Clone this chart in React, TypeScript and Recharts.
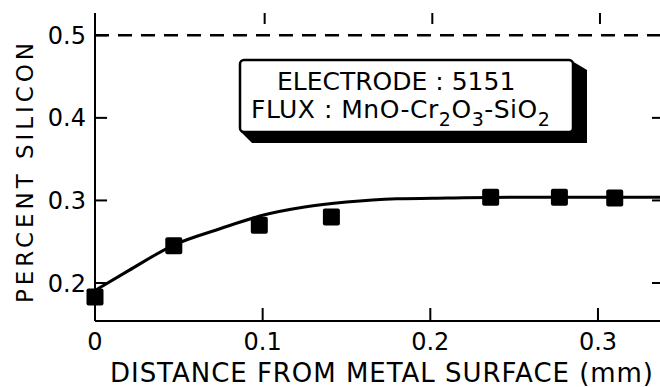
import React from 'react';
import { ComposedChart, Line, Scatter, XAxis, YAxis, ReferenceLine, Label } from 'recharts';

// ---- data ----
const xTickValues = [0, 0.1, 0.2, 0.3];
const yTickValues = [0.2, 0.3, 0.4, 0.5];
const innerXTickValues = [0.1, 0.2, 0.3];
const rightTickValues = [0.2, 0.3, 0.4];

const measuredDistance = [0, 0.047, 0.098, 0.141, 0.236, 0.277, 0.31];
const measuredSilicon = [0.183, 0.245, 0.27, 0.28, 0.304, 0.304, 0.303];

const curveDistance = [0, 0.02, 0.047, 0.075, 0.1, 0.125, 0.15, 0.18, 0.21, 0.25, 0.3, 0.337];
const curveSilicon = [0.191, 0.215, 0.246, 0.266, 0.282, 0.292, 0.298, 0.302, 0.303, 0.304, 0.304, 0.304];

const saturationSilicon = 0.5;
const xDomain = [0, 0.337];
const yDomain = [0.154, 0.527];

const xLabelText = 'DISTANCE FROM METAL SURFACE (mm)';
const yLabelText = 'PERCENT SILICON';

const points = measuredDistance.map((x, i) => ({ x, si: measuredSilicon[i] }));
const curve = curveDistance.map((x, i) => ({ x, si: curveSilicon[i] }));

// inward tick lengths expressed in distance units along the frame edges
const leftTickLen = 0.0072;
const rightTickLen = 0.0048;

const leftTickSegments = yTickValues.map((v) => [
  { x: xDomain[0], si: v },
  { x: xDomain[0] + leftTickLen, si: v },
]);
const rightTickSegments = rightTickValues.map((v) => [
  { x: xDomain[1] - rightTickLen, si: v },
  { x: xDomain[1], si: v },
]);

const FONT = '"DejaVu Sans", sans-serif';
const INK = '#000';

const fmt = (v: number) => (v === 0 ? '0' : v.toFixed(1));

const leftTick = (props: any) => {
  const { x, y, payload } = props;
  return (
    <text x={x} y={y} dy={8.5} textAnchor="end" fontSize={24} fontFamily={FONT} fill={INK}>
      {fmt(payload.value)}
    </text>
  );
};

const bottomTick = (props: any) => {
  const { x, y, payload } = props;
  return (
    <text x={x} y={y} dy={17.5} textAnchor="middle" fontSize={24} fontFamily={FONT} fill={INK}>
      {fmt(payload.value)}
    </text>
  );
};

// inward tick marks at bottom and top of the frame
const xTickShape = (p: any) => {
  const x = p.x1;
  const yb = Math.max(p.y1, p.y2);
  const yt = Math.min(p.y1, p.y2);
  return (
    <g>
      <rect x={x - 1} y={yb - 13} width={2} height={13} fill={INK} />
      <rect x={x + 1} y={yt} width={2} height={11} fill={INK} />
    </g>
  );
};

const Square = (props: any) => {
  const { cx, cy } = props;
  if (cx == null || cy == null) return null;
  return <rect x={cx - 8.5} y={cy - 8.5} width={17} height={17} rx={2} fill={INK} />;
};

const XLabel = (props: any) => {
  const vb = props.viewBox || { x: 95, y: 321, width: 565, height: 66 };
  return (
    <text
      x={vb.x + 15}
      y={vb.y + 61}
      textAnchor="start"
      fontSize={26}
      fontFamily={FONT}
      fill={INK}
      textLength={543}
      lengthAdjust="spacing"
    >
      {xLabelText}
    </text>
  );
};

const YLabel = (props: any) => {
  const vb = props.viewBox || { x: 0, y: 13, width: 95, height: 308 };
  const cx = vb.x + 24;
  const cy = vb.y + vb.height / 2 + 6;
  return (
    <text
      x={cx}
      y={cy}
      dy={8.5}
      transform={`rotate(-90, ${cx}, ${cy})`}
      textAnchor="middle"
      fontSize={23}
      fontFamily={FONT}
      fill={INK}
      textLength={260}
      lengthAdjust="spacing"
    >
      {yLabelText}
    </text>
  );
};

const LegendBox = () => (
  <svg
    width={660}
    height={387}
    style={{ position: 'absolute', left: 0, top: 0, pointerEvents: 'none' }}
  >
    <polygon points="572,61 587,70 587,143 252,143 241,132" fill={INK} />
    <rect x={240} y={60} width={333} height={72} rx={4} fill="#fff" stroke={INK} strokeWidth={2.5} />
    <text x={277} y={90} fontSize={25} fontFamily={FONT} fill={INK}>
      ELECTRODE : 5151
    </text>
    <text x={251} y={118} fontSize={25} fontFamily={FONT} fill={INK} letterSpacing={0.5}>
      FLUX : MnO-Cr
      <tspan fontSize={19} dy={8}>2</tspan>
      <tspan dy={-8}>O</tspan>
      <tspan fontSize={19} dy={8}>3</tspan>
      <tspan dy={-8}>-SiO</tspan>
      <tspan fontSize={19} dy={8}>2</tspan>
    </text>
  </svg>
);

const axisStroke = { stroke: INK, strokeWidth: 2 };

export default function App() {
  return (
    <div style={{ position: 'absolute', left: 0, top: 0, width: 660, height: 387, background: '#fff' }}>
      <ComposedChart
        width={660}
        height={387}
        margin={{ top: 13, right: 0, bottom: 0, left: 0 }}
        style={{ fontFamily: FONT }}
      >
        <XAxis
          xAxisId="bottom"
          dataKey="x"
          type="number"
          domain={xDomain}
          ticks={xTickValues}
          height={66}
          tickSize={0}
          tickMargin={11}
          tickLine={false}
          axisLine={axisStroke}
          tick={bottomTick}
          interval={0}
        >
          <Label content={<XLabel />} />
        </XAxis>
        <YAxis
          yAxisId="left"
          type="number"
          domain={yDomain}
          ticks={yTickValues}
          width={95}
          tickSize={0}
          tickMargin={9}
          tickLine={false}
          axisLine={axisStroke}
          tick={leftTick}
          interval={0}
        >
          <Label content={<YLabel />} />
        </YAxis>
        {innerXTickValues.map((v) => (
          <ReferenceLine
            key={`xt-${v}`}
            xAxisId="bottom"
            yAxisId="left"
            x={v}
            shape={xTickShape}
          />
        ))}
        <ReferenceLine
          xAxisId="bottom"
          yAxisId="left"
          y={saturationSilicon}
          stroke={INK}
          strokeWidth={2.5}
          strokeDasharray="14 9"
        />
        {leftTickSegments.map((seg, i) => (
          <Line
            key={`ltick-${i}`}
            xAxisId="bottom"
            yAxisId="left"
            data={seg}
            dataKey="si"
            type="linear"
            stroke={INK}
            strokeWidth={2}
            dot={false}
            activeDot={false}
            legendType="none"
            isAnimationActive={false}
          />
        ))}
        {rightTickSegments.map((seg, i) => (
          <Line
            key={`rtick-${i}`}
            xAxisId="bottom"
            yAxisId="left"
            data={seg}
            dataKey="si"
            type="linear"
            stroke={INK}
            strokeWidth={2}
            dot={false}
            activeDot={false}
            legendType="none"
            isAnimationActive={false}
          />
        ))}
        <Line
          xAxisId="bottom"
          yAxisId="left"
          data={curve}
          dataKey="si"
          type="monotone"
          stroke={INK}
          strokeWidth={3}
          dot={false}
          activeDot={false}
          isAnimationActive={false}
        />
        <Scatter
          xAxisId="bottom"
          yAxisId="left"
          data={points}
          dataKey="si"
          shape={<Square />}
          isAnimationActive={false}
        />
      </ComposedChart>
      <LegendBox />
    </div>
  );
}
